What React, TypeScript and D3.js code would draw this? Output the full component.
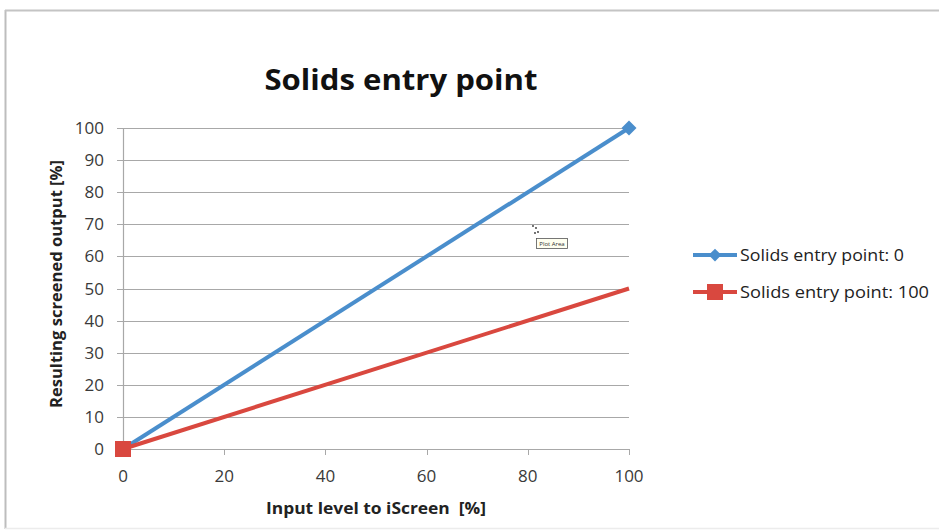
import React from "react";
import * as d3 from "d3";

const xValues = [0, 100];
const seriesNames = ["Solids entry point: 0", "Solids entry point: 100"];
const seriesValues = [
  [0, 100],
  [0, 50],
];
const seriesColors = ["#4A8ECC", "#D9483F"];
const seriesMarkers = ["diamond", "square"];
// which points show a marker (as in the picture)
const markerShown = [
  [true, true],
  [true, false],
];
const xTicks = [0, 20, 40, 60, 80, 100];
const yTicks = [0, 10, 20, 30, 40, 50, 60, 70, 80, 90, 100];
const title = "Solids entry point";
const xTitle = "Input level to iScreen  [%]";
const yTitle = "Resulting screened output [%]";

const W = 939;
const H = 532;
const FONT = "'Open Sans', 'Noto Sans', sans-serif";

export default function App() {
  const x = d3.scaleLinear().domain([0, 100]).range([123, 629]);
  const y = d3.scaleLinear().domain([0, 100]).range([449, 128]);
  const line = d3
    .line<number>()
    .x((_, i) => x(xValues[i]))
    .y((d) => y(d));

  const marker = (kind: string, cx: number, cy: number, color: string, key: string, s = 1) => {
    if (kind === "diamond") {
      const r = 7.5 * s;
      return (
        <path
          key={key}
          d={`M${cx},${cy - r}L${cx + r},${cy}L${cx},${cy + r}L${cx - r},${cy}Z`}
          fill={color}
        />
      );
    }
    const h = 8 * s;
    return <rect key={key} x={cx - h} y={cy - h} width={2 * h} height={2 * h} fill={color} />;
  };

  const legendY = [255, 292];
  const legendLen = [164, 189];

  return (
    <div style={{ position: "fixed", left: 0, top: 0 }}>
      <svg width={W} height={H} style={{ display: "block", background: "#fff" }}>
        {/* chart frame */}
        <line x1={5.5} y1={10} x2={5.5} y2={529} stroke="#bdbdbd" strokeWidth={2} />
        <line x1={5} y1={10.5} x2={W} y2={10.5} stroke="#c4c4c4" strokeWidth={2} />
        <line x1={5} y1={528.5} x2={W} y2={528.5} stroke="#ececec" strokeWidth={1.5} />

        {/* title */}
        <text
          x={401}
          y={90}
          textAnchor="middle"
          fontFamily={FONT}
          fontWeight={700}
          fontSize={28}
          fill="#111"
          textLength={273}
          lengthAdjust="spacingAndGlyphs"
        >
          {title}
        </text>

        {/* gridlines */}
        {yTicks.map((t) => (
          <line key={"g" + t} x1={117} x2={629} y1={Math.round(y(t)) + 0.5} y2={Math.round(y(t)) + 0.5} stroke="#a8a8a8" strokeWidth={1} />
        ))}
        {/* axes */}
        <line x1={123.5} x2={123.5} y1={128} y2={449} stroke="#a8a8a8" strokeWidth={1.2} />
        <line x1={123} x2={629} y1={449.5} y2={449.5} stroke="#a8a8a8" strokeWidth={1.2} />
        {xTicks.map((t) => (
          <line key={"xt" + t} x1={Math.round(x(t)) + 0.5} x2={Math.round(x(t)) + 0.5} y1={449} y2={455} stroke="#a8a8a8" />
        ))}

        {/* tick labels */}
        {yTicks.map((t) => (
          <text key={"yl" + t} x={104} y={y(t) + 6} textAnchor="end" fontFamily={FONT} fontSize={17} fill="#3a3a3a">
            {t}
          </text>
        ))}
        {xTicks.map((t) => (
          <text key={"xl" + t} x={x(t)} y={482} textAnchor="middle" fontFamily={FONT} fontSize={17} fill="#3a3a3a">
            {t}
          </text>
        ))}

        {/* axis titles */}
        <text
          x={376}
          y={514}
          textAnchor="middle"
          fontFamily={FONT}
          fontWeight={700}
          fontSize={16}
          fill="#222"
          textLength={220}
          lengthAdjust="spacingAndGlyphs"
          style={{ whiteSpace: "pre" }}
        >
          {xTitle}
        </text>
        <text
          transform={`translate(62,284) rotate(-90)`}
          textAnchor="middle"
          fontFamily={FONT}
          fontWeight={700}
          fontSize={16}
          fill="#222"
          textLength={248}
          lengthAdjust="spacingAndGlyphs"
        >
          {yTitle}
        </text>

        {/* series lines */}
        {seriesValues.map((vals, si) => (
          <path key={"s" + si} d={line(vals) || ""} fill="none" stroke={seriesColors[si]} strokeWidth={4} />
        ))}
        {/* markers */}
        {seriesValues.map((vals, si) =>
          vals.map((v, i) =>
            markerShown[si][i] ? marker(seriesMarkers[si], x(xValues[i]), y(v), seriesColors[si], `m${si}-${i}`) : null
          )
        )}

        {/* screenshot tooltip artifact */}
        <g>
          <circle cx={533} cy={226} r={0.9} fill="#333" />
          <circle cx={536} cy={228} r={0.9} fill="#333" />
          <circle cx={538} cy={232} r={0.9} fill="#333" />
          <circle cx={535} cy={233} r={0.9} fill="#333" />
          <rect x={536.5} y={238.5} width={31} height={10} fill="#fffff0" stroke="#555" strokeWidth={0.8} />
          <text x={552} y={246} textAnchor="middle" fontFamily={FONT} fontSize={6} fill="#333">
            Plot Area
          </text>
        </g>

        {/* legend */}
        {seriesNames.map((n, si) => (
          <g key={"lg" + si}>
            <line x1={693} x2={737} y1={legendY[si]} y2={legendY[si]} stroke={seriesColors[si]} strokeWidth={4} />
            {marker(seriesMarkers[si], 715, legendY[si], seriesColors[si], "lm" + si, si === 0 ? 0.85 : 1)}
            <text
              x={740}
              y={legendY[si] + 6}
              fontFamily={FONT}
              fontSize={17}
              fill="#222"
              textLength={legendLen[si]}
              lengthAdjust="spacingAndGlyphs"
            >
              {n}
            </text>
          </g>
        ))}
      </svg>
    </div>
  );
}
